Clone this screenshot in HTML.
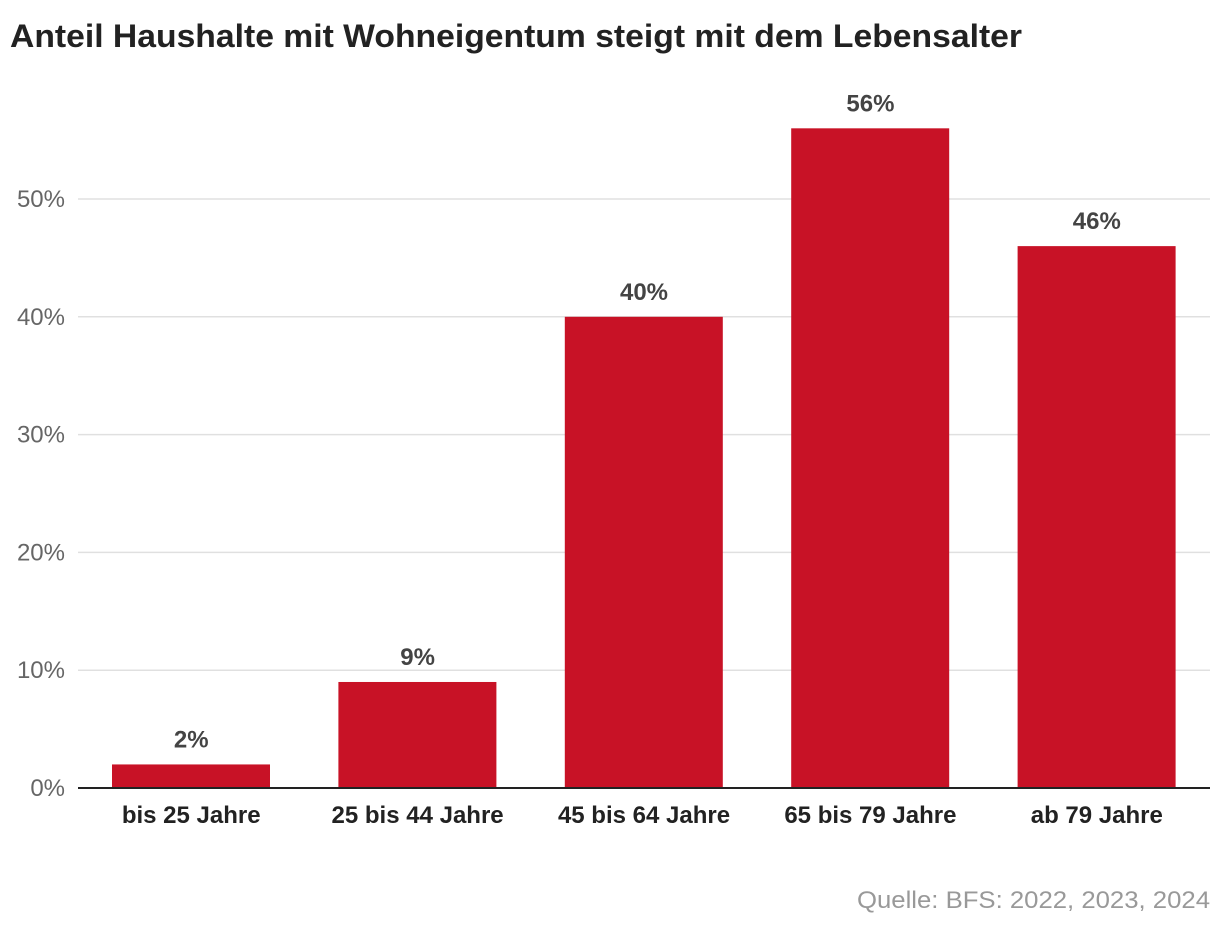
<!DOCTYPE html>
<html><head><meta charset="utf-8"><style>
body{margin:0;background:#fff;width:1220px;height:930px;overflow:hidden;font-family:"Liberation Sans",sans-serif}
</style></head><body>
<svg width="1220" height="930" xmlns="http://www.w3.org/2000/svg">
<text x="10" y="47" font-size="32" font-weight="bold" fill="#222" textLength="1012" lengthAdjust="spacingAndGlyphs">Anteil Haushalte mit Wohneigentum steigt mit dem Lebensalter</text>
<g id="grid"></g><g id="bars"></g>
<text x="1210" y="908" font-size="24" fill="#999" text-anchor="end" textLength="353" lengthAdjust="spacingAndGlyphs">Quelle: BFS: 2022, 2023, 2024</text>
</svg>
<script>
const categories=["bis 25 Jahre","25 bis 44 Jahre","45 bis 64 Jahre","65 bis 79 Jahre","ab 79 Jahre"];
const values=[2,9,40,56,46];
const ticks=[0,10,20,30,40,50];
const ns="http://www.w3.org/2000/svg";
const x0=78,x1=1210,y0=788,pxPer=11.78;
const y=v=>y0-v*pxPer;
const band=(x1-x0)/categories.length;
const g=document.getElementById("grid"),b=document.getElementById("bars");
function mk(tag,attrs,parent,text){const e=document.createElementNS(ns,tag);for(const k in attrs)e.setAttribute(k,attrs[k]);if(text!==undefined)e.textContent=text;parent.appendChild(e);return e;}
ticks.forEach(t=>{
 if(t>0){const l=mk("line",{x1:x0,x2:x1,y1:y(t),y2:y(t),stroke:"#e0e0e0","stroke-width":1.5},g);
 
 }
 const tx=mk("text",{x:65,y:y(t)+8,"font-size":24,fill:"#666","text-anchor":"end"},g,t+"%");
 
 
});
categories.forEach((c,i)=>{
 const bx=x0+i*band+34,bw=158,cx=x0+i*band+band/2;
 const r=mk("rect",{x:bx,y:y(values[i]),width:bw,height:y0-y(values[i]),fill:"#c81226"},b);
 
 
 const v=mk("text",{x:cx,y:y(values[i])-17,"font-size":24,"font-weight":"bold",fill:"#444","text-anchor":"middle"},b,values[i]+"%");
 
 
 const xl=mk("text",{x:cx,y:823,"font-size":24,"font-weight":"bold",fill:"#222","text-anchor":"middle"},b,c);
 
 
});
const ax=mk("line",{x1:x0,x2:x1,y1:y0,y2:y0,stroke:"#222","stroke-width":2},b);


</script>
</body></html>
